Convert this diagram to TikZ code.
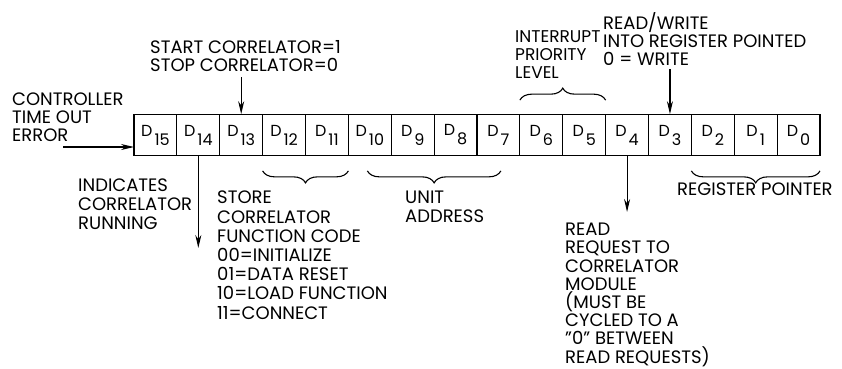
\documentclass[tikz,border=0pt]{standalone}
\usepackage{fontspec}
\setmainfont{Poppins}
\usetikzlibrary{positioning,arrows.meta,decorations.pathreplacing}

\newcommand{\dbit}[1]{D\kern2pt\raisebox{-9pt}{#1}}

\begin{document}
\begin{tikzpicture}[x=1pt, y=-1pt,
		cell/.style={rectangle, draw=black, line width=1.2pt, minimum width=42.875pt, minimum height=41.7pt, inner sep=0pt, outer sep=0pt, font=\fontsize{16}{16}\selectfont},
		note/.style={anchor=north west, inner sep=0pt, align=left, font=\fontsize{18}{18.6}\selectfont},
		ptr/.style={line width=1.1pt, -{Stealth[length=13pt, width=6pt]}},
		braceup/.style={line width=1.1pt, decorate, decoration={brace, amplitude=12pt}},
		bracedown/.style={line width=1.1pt, decorate, decoration={brace, mirror, amplitude=12pt}}
	]
	\useasboundingbox (0,0) rectangle (842,368);
	% register cells
	\node[cell] (d15) at (155.44,135) {\dbit{15}};
	\node[cell] (d14) [right=0pt of d15] {\dbit{14}};
	\node[cell] (d13) [right=0pt of d14] {\dbit{13}};
	\node[cell] (d12) [right=0pt of d13] {\dbit{12}};
	\node[cell] (d11) [right=0pt of d12] {\dbit{11}};
	\node[cell] (d10) [right=0pt of d11] {\dbit{10}};
	\node[cell] (d9) [right=0pt of d10] {\dbit{9}};
	\node[cell] (d8) [right=0pt of d9] {\dbit{8}};
	\node[cell] (d7) [right=0pt of d8] {\dbit{7}};
	\node[cell] (d6) [right=0pt of d7] {\dbit{6}};
	\node[cell] (d5) [right=0pt of d6] {\dbit{5}};
	\node[cell] (d4) [right=0pt of d5] {\dbit{4}};
	\node[cell] (d3) [right=0pt of d4] {\dbit{3}};
	\node[cell] (d2) [right=0pt of d3] {\dbit{2}};
	\node[cell] (d1) [right=0pt of d2] {\dbit{1}};
	\node[cell] (d0) [right=0pt of d1] {\dbit{0}};
	% labels
	\node[note] (startlbl) at (150,40) {START CORRELATOR=1\\STOP CORRELATOR=0};
	\node[note, font=\fontsize{18}{17.8}\selectfont] (ctrllbl) at (12,93) {CONTROLLER\\TIME OUT\\ERROR};
	\node[note] (runlbl) at (78,179) {INDICATES\\CORRELATOR\\RUNNING};
	\node[note, font=\fontsize{18}{19.2}\selectfont] (funclbl) at (217,191) {STORE\\CORRELATOR\\FUNCTION CODE\\00=INITIALIZE\\01=DATA RESET\\10=LOAD FUNCTION\\11=CONNECT};
	\node[note, font=\fontsize{18}{19.2}\selectfont] (unitlbl) at (405,191) {UNIT\\ADDRESS};
	\node[note, font=\fontsize{17}{18}\selectfont] (irqlbl) at (515,30) {INTERRUPT\\PRIORITY\\LEVEL};
	\node[note, font=\fontsize{18}{18}\selectfont] (rwlbl) at (603,12) {READ/WRITE\\INTO REGISTER POINTED\\0 = WRITE};
	\node[note] (reglbl) at (677,183) {REGISTER POINTER};
	\node[note, font=\fontsize{18}{18.2}\selectfont] (readlbl) at (565,223) {READ\\REQUEST TO\\CORRELATOR\\MODULE\\(MUST BE\\CYCLED TO A\\"0" BETWEEN\\READ REQUESTS)};
	% free ends of the arrows
	\coordinate (ctrlin) at (63,147);
	\coordinate (starttop) at (242,77);
	\coordinate (rwtop) at (670,69);
	\coordinate (runend) at (199,248);
	\coordinate (readend) at (627,212);
	\draw[ptr] (ctrlin) -- (ctrlin -| d15.west);
	\draw[ptr] (d13.north |- starttop) -- (d13.north);
	\draw[ptr] (d3.north |- rwtop) -- (d3.north);
	\draw[ptr] (d14.south) -- (d14.south |- runend);
	\draw[ptr] (d4.south) -- (d4.south |- readend);
	% braces
	\draw[bracedown] ([yshift=-15pt]d12.south west) -- ([yshift=-15pt]d11.south east);
	\draw[bracedown] ([xshift=19pt,yshift=-15pt]d10.south west) -- ([xshift=-19pt,yshift=-15pt]d7.south east);
	\draw[bracedown] ([yshift=-15pt]d2.south west) -- ([yshift=-15pt]d0.south east);
	\draw[braceup] ([yshift=14pt]d6.north west) -- ([yshift=14pt]d5.north east);
\end{tikzpicture}
\end{document}
